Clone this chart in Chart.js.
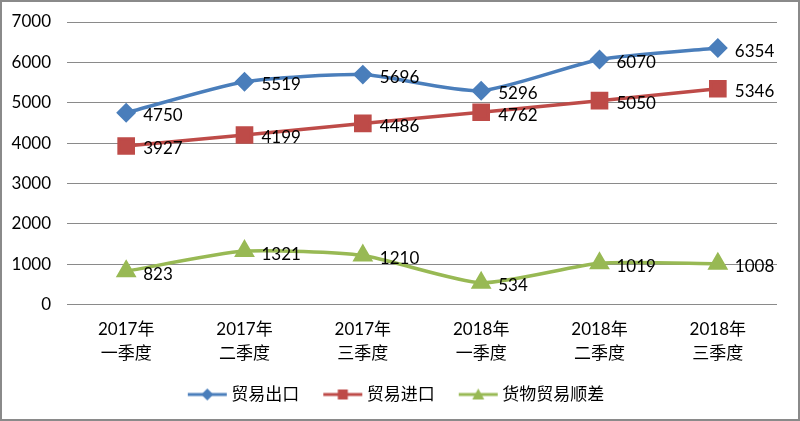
<!DOCTYPE html>
<html>
<head>
<meta charset="utf-8">
<script src="https://cdn.jsdelivr.net/npm/chart.js@4"></script>
<style>
  html, body { margin: 0; padding: 0; background: #fff; }
  #wrap { position: relative; width: 800px; height: 421px; }
  #frame { position: absolute; left: 0; top: 0; width: 800px; height: 421px;
           box-sizing: border-box; border: 2px solid #8a8a8a; pointer-events: none; }
</style>
</head>
<body>
<div id="wrap">
  <canvas id="chart" width="800" height="421"></canvas>
  <div id="frame"></div>
</div>
<script>
// categories and series
const quarters = [
  ['2017年', '一季度'], ['2017年', '二季度'], ['2017年', '三季度'],
  ['2018年', '一季度'], ['2018年', '二季度'], ['2018年', '三季度']
];
const exportValues = [4750, 5519, 5696, 5296, 6070, 6354];
const importValues = [3927, 4199, 4486, 4762, 5050, 5346];
const surplusValues = [823, 1321, 1210, 534, 1019, 1008];
const seriesNames = ['贸易出口', '贸易进口', '货物贸易顺差'];
const yTicks = [0, 1000, 2000, 3000, 4000, 5000, 6000, 7000];

const BLUE = '#4a7ebb', RED = '#be4b48', GREEN = '#98b954';
const FONT = "Lato, 'Noto Sans CJK SC', sans-serif";

// legend swatch: a short line with the marker in the middle.
// the image is wider than the legend box so the line sits close to the text
function legendSwatch(color, shape) {
  const c = document.createElement('canvas');
  c.width = 100; c.height = 18;
  const g = c.getContext('2d');
  const x0 = 40, x1 = 79, mx = (x0 + x1) / 2;
  g.strokeStyle = color; g.lineWidth = 3;
  g.beginPath(); g.moveTo(x0, 9); g.lineTo(x1, 9); g.stroke();
  g.fillStyle = color;
  g.beginPath();
  if (shape === 'diamond') {
    g.moveTo(mx, 3); g.lineTo(mx + 6, 9); g.lineTo(mx, 15); g.lineTo(mx - 6, 9);
  } else if (shape === 'square') {
    g.rect(mx - 5, 4, 10, 10);
  } else {
    g.moveTo(mx, 3); g.lineTo(mx + 6, 14); g.lineTo(mx - 6, 14);
  }
  g.closePath(); g.fill();
  return c;
}
const swatches = [legendSwatch(BLUE, 'diamond'), legendSwatch(RED, 'square'), legendSwatch(GREEN, 'triangle')];

// value labels drawn to the right of each point
const valueLabels = {
  id: 'valueLabels',
  afterDatasetsDraw(chart) {
    const ctx = chart.ctx;
    ctx.save();
    ctx.font = '17px ' + FONT;
    ctx.fillStyle = '#000';
    ctx.textBaseline = 'middle';
    ctx.textAlign = 'left';
    chart.data.datasets.forEach((ds, i) => {
      chart.getDatasetMeta(i).data.forEach((pt, j) => {
        ctx.fillText(String(ds.data[j]), pt.x + 17, pt.y + 3);
      });
    });
    ctx.restore();
  }
};

new Chart(document.getElementById('chart'), {
  type: 'line',
  data: {
    labels: quarters,
    datasets: [
      { label: seriesNames[0], data: exportValues, borderColor: BLUE, backgroundColor: BLUE,
        borderWidth: 3.5, pointStyle: 'rectRot', pointRadius: 7.5, pointHoverRadius: 7.5, tension: 0.2 },
      { label: seriesNames[1], data: importValues, borderColor: RED, backgroundColor: RED,
        borderWidth: 3.5, pointStyle: 'rect', pointRadius: 10, pointHoverRadius: 10, tension: 0.2 },
      { label: seriesNames[2], data: surplusValues, borderColor: GREEN, backgroundColor: GREEN,
        borderWidth: 3.5, pointStyle: 'triangle', pointRadius: 8.5, pointHoverRadius: 8.5, tension: 0.2 }
    ]
  },
  options: {
    responsive: false,
    animation: false,
    layout: { padding: { top: 22, right: 23, left: 0, bottom: 8 } },
    scales: {
      x: {
        offset: true,
        grid: { display: false },
        border: { display: false },
        afterFit: s => { s.height += 7; },
        ticks: { color: '#000', font: { family: FONT, size: 17, lineHeight: 1.4 }, padding: 5, maxRotation: 0 }
      },
      y: {
        min: 0, max: 7000,
        afterBuildTicks: s => { s.ticks = yTicks.map(v => ({ value: v })); },
        afterFit: s => { s.width = 67; s.paddingTop = 0; s.paddingBottom = 0; },
        grid: { color: '#8a8a8a', drawTicks: false },
        border: { display: false },
        ticks: { color: '#000', font: { family: FONT, size: 17 }, padding: 16, callback: v => String(v) }
      }
    },
    plugins: {
      tooltip: { enabled: false },
      legend: {
        position: 'bottom',
        labels: {
          usePointStyle: true,
          pointStyleWidth: 50,
          color: '#000',
          font: { family: FONT, size: 17 },
          padding: 9,
          generateLabels: chart => Chart.defaults.plugins.legend.labels.generateLabels(chart)
            .map((item, i) => Object.assign(item, { pointStyle: swatches[i] }))
        }
      }
    }
  },
  plugins: [valueLabels]
});
</script>
</body>
</html>
